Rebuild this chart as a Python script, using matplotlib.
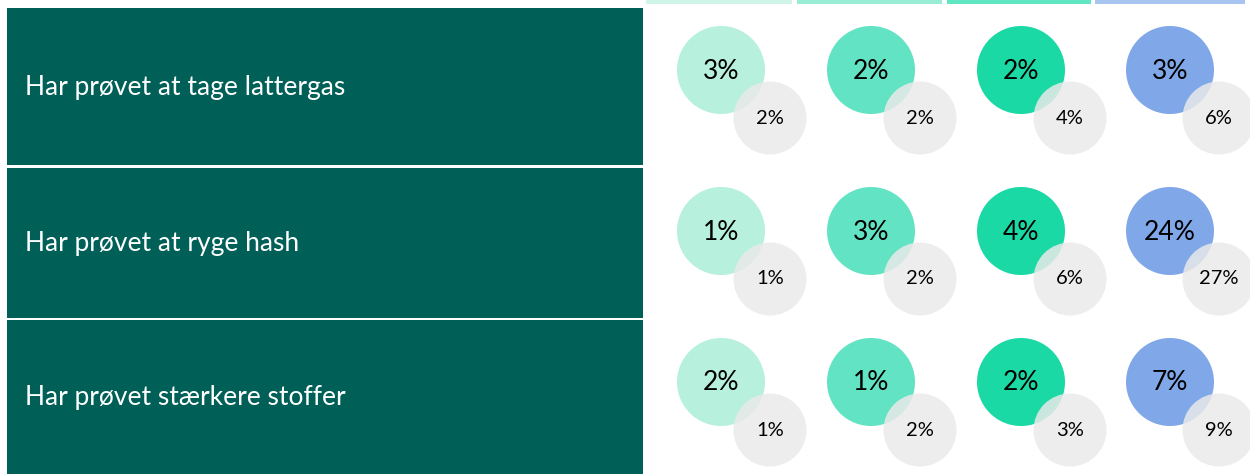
import matplotlib.pyplot as plt
from matplotlib.patches import Rectangle, Circle

plt.rcParams['font.family'] = ['Lato', 'DejaVu Sans']

# data
categories = ['Har prøvet at tage lattergas',
              'Har prøvet at ryge hash',
              'Har prøvet stærkere stoffer']
main_vals = [[3, 2, 2, 3],
             [1, 3, 4, 24],
             [2, 1, 2, 7]]
comp_vals = [[2, 2, 4, 6],
             [1, 2, 6, 27],
             [1, 2, 3, 9]]

header_colors = ['#D0F5E8', '#99EDD5', '#61E6C3', '#A8C4F0']
circle_colors = ['#B8F0DE', '#62E3C3', '#1AD9A5', '#80A8E8']
gray = '#EAEAEA'
panel_color = '#006058'

fig = plt.figure(figsize=(12.5, 4.74), dpi=100)
ax = fig.add_axes([0, 0, 1, 1])
ax.set_xlim(0, 1250)
ax.set_ylim(474, 0)
ax.set_aspect('equal')
ax.axis('off')

# row geometry
row_top = [8, 168, 320]
row_bot = [165, 318, 474]
col_x = [721, 871, 1021, 1170]
big_y = [70, 231, 382]

# header strips
hdr_left = [646, 797, 947, 1095]
hdr_w = [146, 145, 144, 150]
for i, c in enumerate(header_colors):
    ax.add_patch(Rectangle((hdr_left[i], 0), hdr_w[i], 4, color=c, lw=0))

for r, cat in enumerate(categories):
    ax.add_patch(Rectangle((7, row_top[r]), 636, row_bot[r] - row_top[r],
                           color=panel_color, lw=0))
    ax.text(25, (row_top[r] + row_bot[r]) / 2 + 1, cat, color='white',
            fontsize=19, va='center', ha='left')
    for c in range(4):
        cx, cy = col_x[c], big_y[r]
        ax.add_patch(Circle((cx, cy), 44, color=circle_colors[c], lw=0))
        ax.add_patch(Circle((cx + 49, cy + 48), 36.5, color=gray, lw=0,
                            alpha=0.85))
        ax.text(cx, cy + 1, f'{main_vals[r][c]}%', fontsize=19,
                ha='center', va='center', color='black')
        ax.text(cx + 49, cy + 48, f'{comp_vals[r][c]}%', fontsize=14.5,
                ha='center', va='center', color='black')

plt.savefig('out.png', dpi=100)
